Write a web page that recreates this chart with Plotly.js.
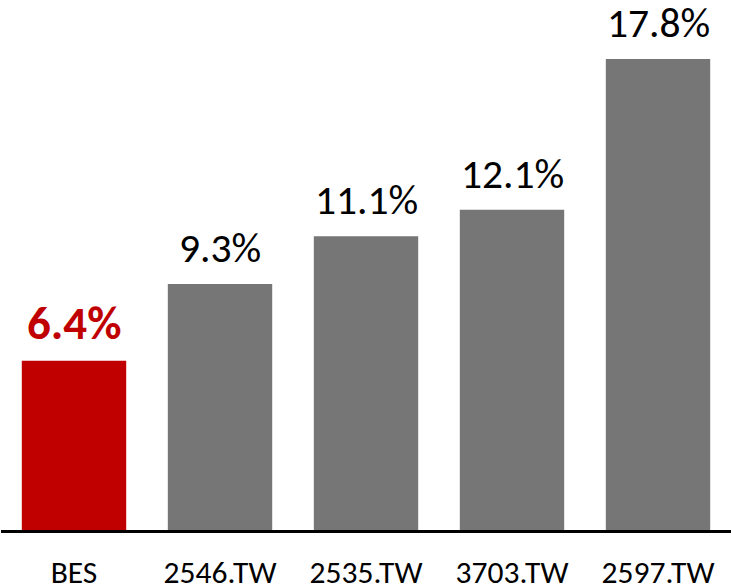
<!DOCTYPE html>
<html>
<head>
<meta charset="utf-8">
<script src="https://cdn.plot.ly/plotly-3.0.1.min.js"></script>
<style>html,body{margin:0;padding:0;background:#fff;}#chart{width:731px;height:584px;}</style>
</head>
<body>
<div id="chart"></div>
<script>
var categories = ["BES", "2546.TW", "2535.TW", "3703.TW", "2597.TW"];
var values = [6.4, 9.3, 11.1, 12.1, 17.8];
var valueLabels = ["6.4%", "9.3%", "11.1%", "12.1%", "17.8%"];
var barColors = ["#C00000", "#767676", "#767676", "#767676", "#767676"];
var labelColors = ["#C00000", "#000000", "#000000", "#000000", "#000000"];
var labelBold = [true, false, false, false, false];

var FONT = "Carlito, Calibri, Lato, sans-serif";

var annotations = categories.map(function(c, i) {
  return {
    x: c, y: values[i], xref: "x", yref: "y",
    text: labelBold[i] ? "<b>" + valueLabels[i] + "</b>" : valueLabels[i],
    showarrow: false, yanchor: "bottom", yshift: labelBold[i] ? 7 : 9,
    font: {family: FONT, size: labelBold[i] ? 47 : 41.5, color: labelColors[i]}
  };
});

var trace = {
  type: "bar",
  x: categories,
  y: values,
  marker: {color: barColors, line: {width: 0}},
  hoverinfo: "none"
};

var layout = {
  width: 731, height: 584,
  margin: {l: 1, r: 0, t: 0, b: 54},
  paper_bgcolor: "#ffffff", plot_bgcolor: "#ffffff",
  showlegend: false,
  bargap: 0.285,
  xaxis: {
    type: "category",
    showline: true, linecolor: "#000000", linewidth: 3,
    showgrid: false, zeroline: false, ticks: "",
    ticklabelstandoff: 12,
    tickfont: {family: FONT, size: 31.5, color: "#000000"},
    automargin: false
  },
  yaxis: {
    range: [0, 20.03],
    showgrid: false, zeroline: false, showline: false,
    showticklabels: false, ticks: "", fixedrange: true
  },
  annotations: annotations
};

Plotly.newPlot("chart", [trace], layout, {displayModeBar: false, staticPlot: true});
</script>
</body>
</html>
